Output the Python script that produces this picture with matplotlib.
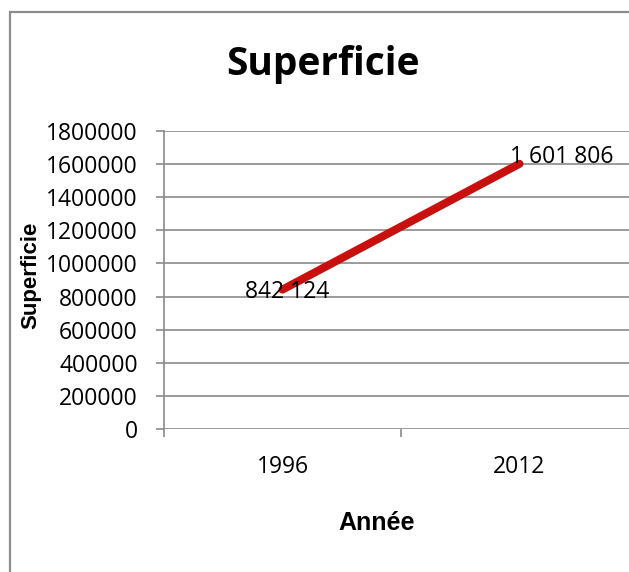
import matplotlib
matplotlib.use("Agg")
import matplotlib.pyplot as plt
from matplotlib.patches import Rectangle
import numpy as np

# Surface per year
annees = ['1996', '2012']
superficie = [842124, 1601806]
y_ticks = list(range(0, 1800001, 200000))

titre = 'Superficie'
x_titre = 'Année'
y_titre = 'Superficie'

W, H, DPI = 629, 572, 100
LINE_RED = '#C8100F'
GRID_GRAY = '#8A8A8A'


def fx(px):
    return px / W


def fy(py):
    return 1 - py / H


def fmt_fr(v):
    # French thousands separator (space)
    return f"{v:,}".replace(',', ' ')


fig = plt.figure(figsize=(W / DPI, H / DPI), dpi=DPI)
fig.patch.set_facecolor('white')

# chart frame, cut off on the right and bottom
fig.patches.append(Rectangle((fx(10), -0.2), 1.2, fy(12) + 0.2,
                             transform=fig.transFigure, fill=False,
                             edgecolor='#8C8C8C', linewidth=1.6))

# plot area runs past the right edge of the figure
ax = fig.add_axes([fx(164), fy(429), fx(638) - fx(164), fy(131) - fy(429)])
ax.set_facecolor('none')

x = np.arange(len(annees)) + 0.5
ax.plot(x, superficie, color=LINE_RED, linewidth=5.8,
        solid_capstyle='round', zorder=3)

ax.set_xlim(0, len(annees))
ax.set_ylim(0, 1800000)

for s in ['top', 'right', 'bottom']:
    ax.spines[s].set_visible(False)
ax.spines['left'].set_color(GRID_GRAY)
ax.spines['left'].set_linewidth(1.2)

ax.set_yticks(y_ticks)
ax.set_yticklabels([str(v) for v in y_ticks], fontfamily='Open Sans', fontsize=16.5)
ax.tick_params(axis='y', length=5.8, width=1.2, color=GRID_GRAY, pad=13)
ax.yaxis.grid(True, color=GRID_GRAY, linewidth=1.2)
ax.set_axisbelow(True)

# category boundaries carry the ticks, centers carry the labels
ax.set_xticks(np.arange(len(annees) + 1))
ax.set_xticklabels([])
ax.tick_params(axis='x', which='major', length=5.8, width=1.2, color=GRID_GRAY)
ax.set_xticks(x, minor=True)
ax.set_xticklabels(annees, minor=True, fontfamily='Open Sans', fontsize=16.5)
ax.tick_params(axis='x', which='minor', length=0, pad=18.5)

# value labels
ax.annotate(fmt_fr(superficie[0]), (x[0], superficie[0]), xytext=(3, -5.8),
            textcoords='offset points', ha='center', va='baseline',
            fontfamily='Open Sans', fontsize=16.5, zorder=4)
ax.annotate(fmt_fr(superficie[1]), (x[1], superficie[1]), xytext=(-6.5, 0.7),
            textcoords='offset points', ha='left', va='baseline',
            fontfamily='Open Sans', fontsize=16.5, zorder=4, annotation_clip=False)

fig.text(fx(323), fy(75), titre, ha='center', va='baseline',
         fontfamily='Open Sans', fontweight='bold', fontsize=28)
fig.text(fx(377), fy(530), x_titre, ha='center', va='baseline',
         fontfamily='Liberation Sans', fontweight='bold', fontsize=18)
fig.text(fx(30.5), fy(275), y_titre, ha='center', va='center', rotation=90,
         fontfamily='Liberation Sans', fontweight='bold', fontsize=16)

fig.savefig('out.png', dpi=DPI)
